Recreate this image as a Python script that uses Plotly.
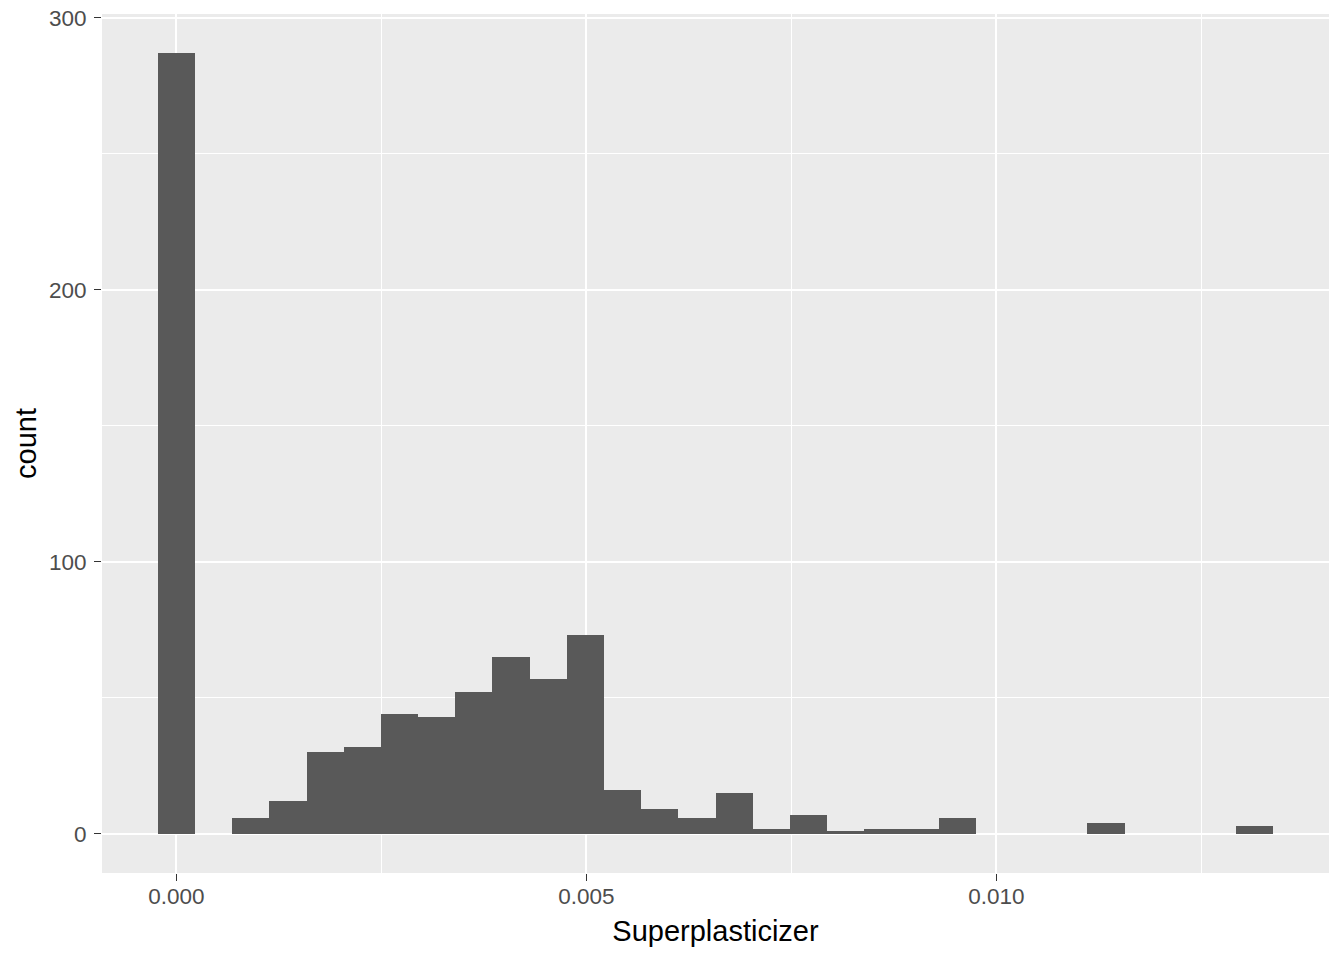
import plotly.graph_objects as go

# Histogram of Superplasticizer (30 bins), counts
bin_width = 0.00045345
bin_index = list(range(30))
counts = [287, 0, 6, 12, 30, 32, 44, 43, 52, 65, 57, 73, 16, 9, 6, 15,
          2, 7, 1, 2, 2, 6, 0, 0, 0, 4, 0, 0, 0, 3]
bin_centers = [i * bin_width for i in bin_index]

x_ticks = [0.0, 0.005, 0.010]
x_tick_labels = ["0.000", "0.005", "0.010"]
x_minor = [0.0025, 0.0075, 0.0125]
y_ticks = [0, 100, 200, 300]
y_tick_labels = ["0", "100", "200", "300"]
y_minor = [50, 150, 250]

fig = go.Figure(
    go.Bar(
        x=bin_centers,
        y=counts,
        width=[bin_width] * len(counts),
        marker=dict(color="#595959", line=dict(width=0)),
        hoverinfo="x+y",
    )
)

font_family = "Liberation Sans, Arial, sans-serif"
x_lo, x_hi = -0.5 * bin_width, bin_centers[-1] + 0.5 * bin_width
x_pad = 0.05 * (x_hi - x_lo)
y_pad = 0.05 * max(counts)

fig.update_layout(
    width=1344,
    height=960,
    paper_bgcolor="white",
    plot_bgcolor="#EBEBEB",
    margin=dict(l=102, r=15, t=14, b=87, autoexpand=False),
    showlegend=False,
    bargap=0,
    font=dict(family=font_family),
)

fig.update_xaxes(
    range=[x_lo - x_pad, x_hi + x_pad],
    tickvals=x_ticks,
    ticktext=x_tick_labels,
    tickfont=dict(size=22.5, color="#4D4D4D", family=font_family),
    ticks="outside",
    ticklen=7,
    tickwidth=1.1,
    tickcolor="#333333",
    ticklabelstandoff=-4,
    ticklabeloverflow="allow",
    automargin=False,
    showgrid=True,
    gridcolor="white",
    gridwidth=1.5,
    zeroline=False,
    showline=False,
    minor=dict(tickvals=x_minor, showgrid=True, gridcolor="white", gridwidth=0.7, ticks=""),
    title=dict(text="Superplasticizer", font=dict(size=29, color="black", family=font_family), standoff=12),
)

fig.update_yaxes(
    range=[-y_pad, max(counts) + y_pad],
    tickvals=y_ticks,
    ticktext=y_tick_labels,
    tickfont=dict(size=22.5, color="#4D4D4D", family=font_family),
    ticks="outside",
    ticklen=7,
    tickwidth=1.1,
    tickcolor="#333333",
    ticklabelstandoff=3,
    ticklabeloverflow="allow",
    automargin=False,
    showgrid=True,
    gridcolor="white",
    gridwidth=1.5,
    zeroline=False,
    showline=False,
    minor=dict(tickvals=y_minor, showgrid=True, gridcolor="white", gridwidth=0.7, ticks=""),
    title=dict(text="count", font=dict(size=29, color="black", family=font_family), standoff=3),
)

fig.write_html(
    "out.html",
    config={"displayModeBar": False},
    post_script="document.body.style.margin='0';document.body.style.overflow='hidden';",
)
